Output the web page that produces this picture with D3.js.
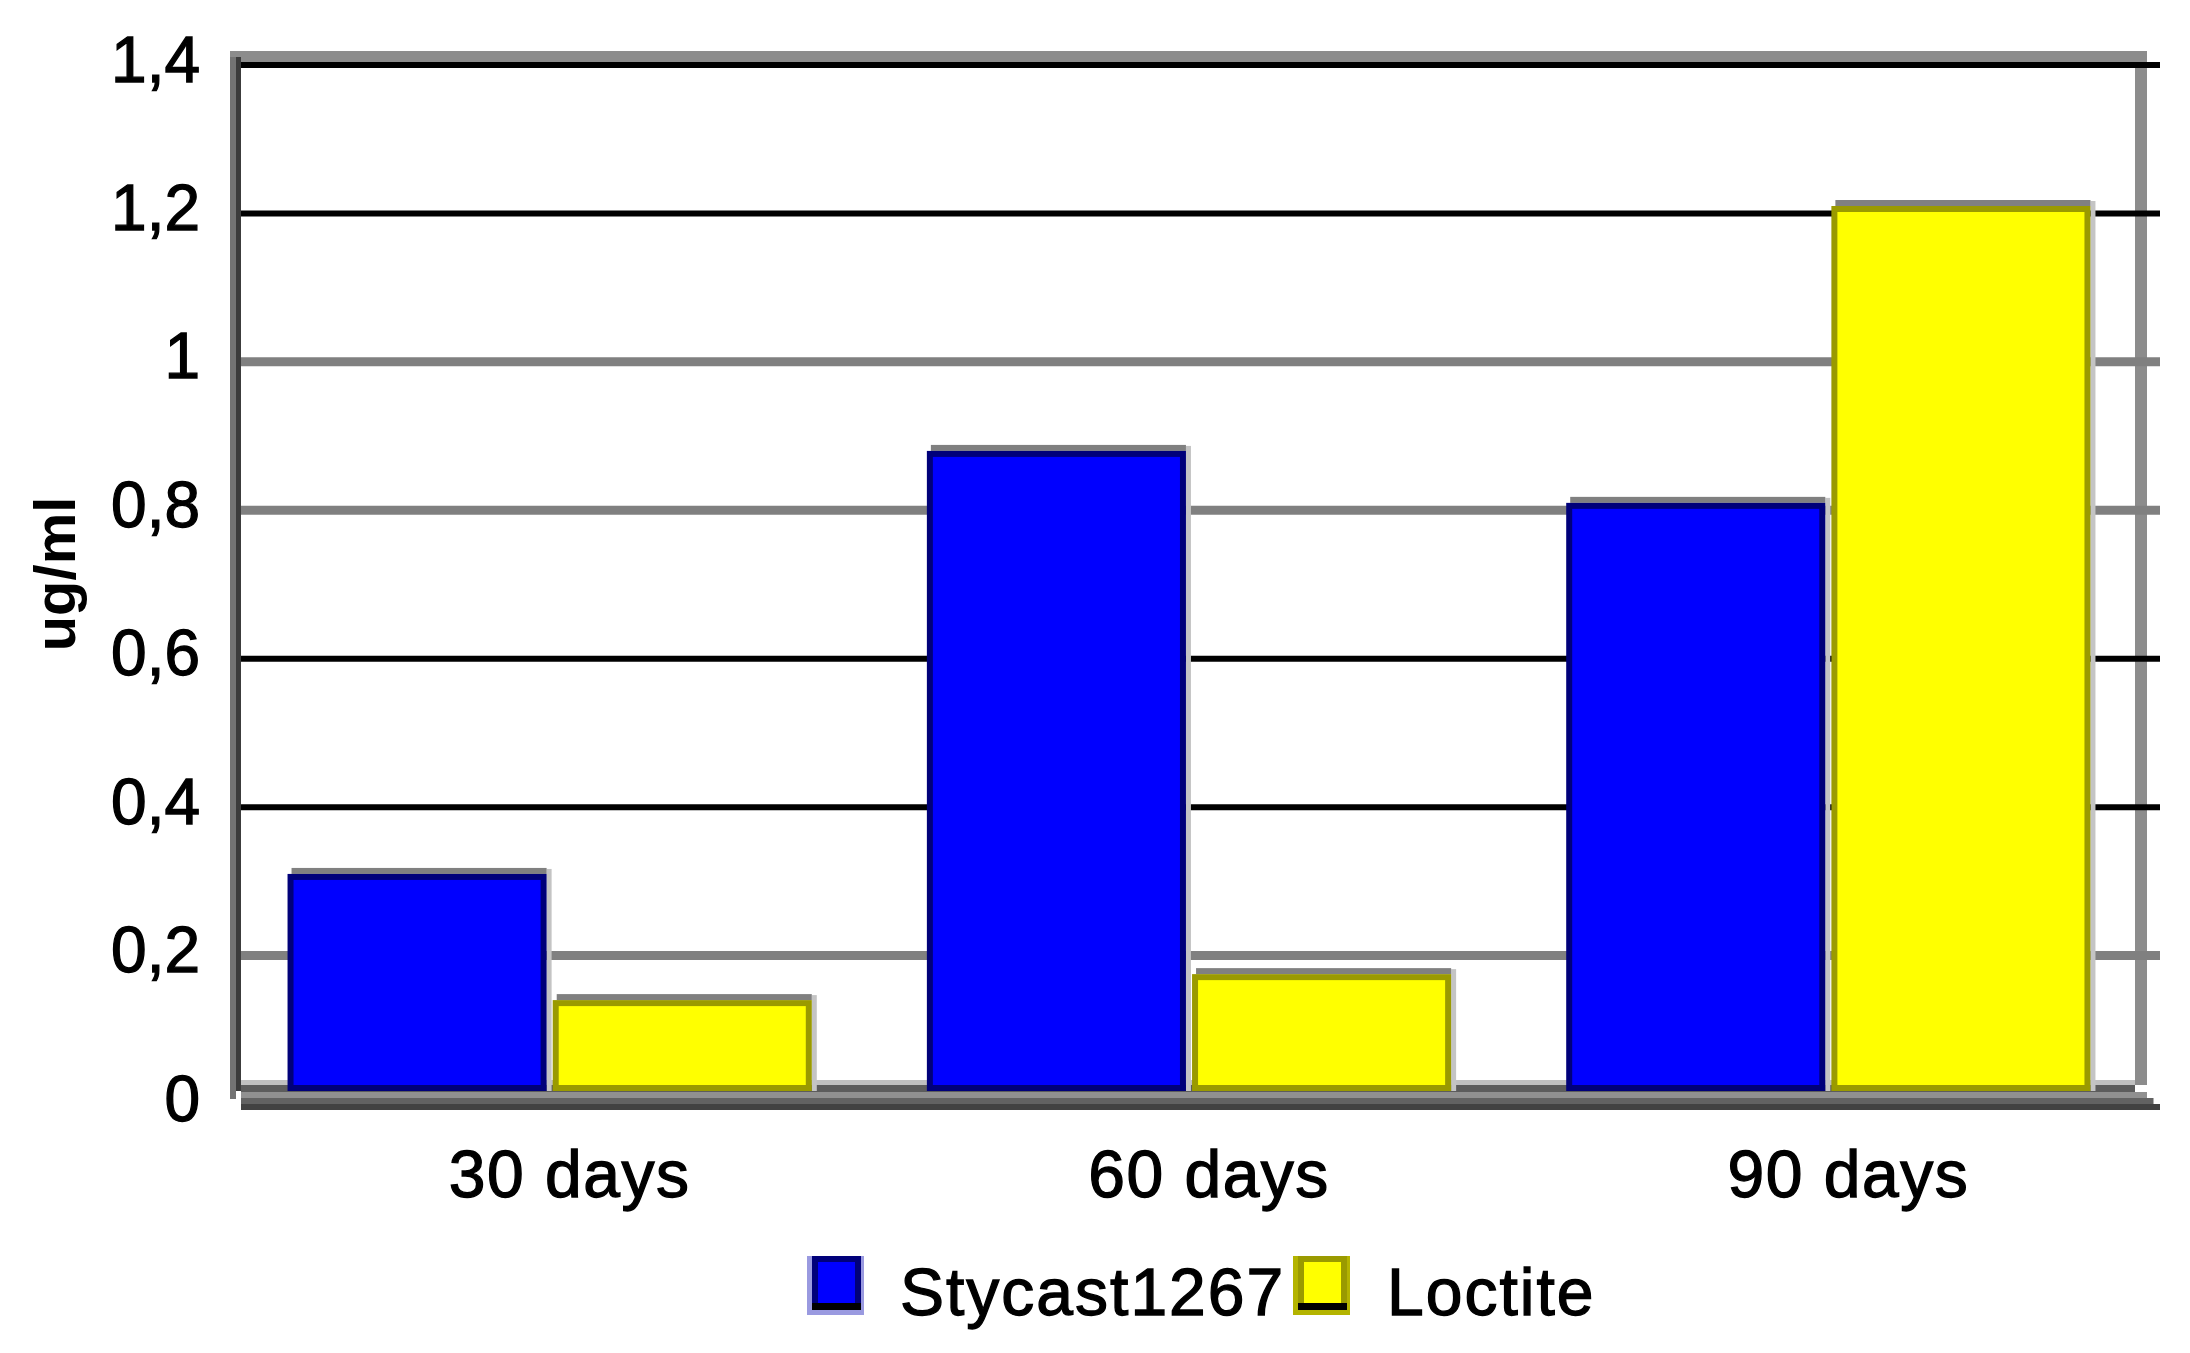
<!DOCTYPE html>
<html>
<head>
<meta charset="utf-8">
<script src="https://cdn.jsdelivr.net/npm/d3@7"></script>
<style>
  html, body { margin: 0; padding: 0; background: #ffffff; }
  svg { display: block; }
  text { font-family: "Liberation Sans", Arial, sans-serif; fill: #000; }
</style>
</head>
<body>
<svg id="chart" width="2190" height="1353"></svg>
<script>
// ---- data ----
const categories = ["30 days", "60 days", "90 days"];
const seriesNames = ["Stycast1267", "Loctite"];
const stycastValues = [0.31, 0.88, 0.81];
const loctiteValues = [0.14, 0.175, 1.21];
const yTickValues = [0, 0.2, 0.4, 0.6, 0.8, 1.0, 1.2, 1.4];
const yTitle = "ug/ml";

// ---- layout ----
const svg = d3.select("#chart");
const wallL = 230, wallR = 2147, gridEnd = 2160;
const depth = 13; // pseudo-3D offset between back wall and front floor

const x = d3.scaleBand().domain(categories).range([230, 2148]).padding(0);
const bw = x.bandwidth();
const xi = d3.scaleBand().domain(seriesNames)
  .range([bw * 0.09, bw * 0.91]).paddingInner(0.023).paddingOuter(0);
const y = d3.scaleLinear().domain([0, 1.4]).range([1104, 65]);

const colors = {
  "Stycast1267": { fill: "#0000ff", edge: "#00007a", top: "#808080", outer: "#9a9ae0" },
  "Loctite": { fill: "#ffff00", edge: "#9a9a00", top: "#808080", outer: "#b4b400" }
};

const rows = categories.map((c, i) => ({
  cat: c,
  vals: [
    { s: seriesNames[0], v: stycastValues[i] },
    { s: seriesNames[1], v: loctiteValues[i] }
  ]
}));

// ---- frame (walls) ----
const floorY = y(0) - depth;
svg.append("rect").attr("x", wallL).attr("y", y(1.4) - 14)
  .attr("width", wallR - wallL).attr("height", 12).attr("fill", "#8c8c8c");
svg.append("rect").attr("x", wallL).attr("y", y(1.4) - 8)
  .attr("width", 6).attr("height", floorY + 8 - (y(1.4) - 8)).attr("fill", "#747474");
svg.append("rect").attr("x", wallL + 6).attr("y", y(1.4) - 8)
  .attr("width", 5).attr("height", floorY - (y(1.4) - 8)).attr("fill", "#3c3c3c");
svg.append("rect").attr("x", 2135).attr("y", y(1.4) - 8)
  .attr("width", 12).attr("height", floorY - 6 - (y(1.4) - 8)).attr("fill", "#8c8c8c");

svg.append("rect").attr("x", wallL + 11).attr("y", floorY - 11)
  .attr("width", 2135 - wallL - 11).attr("height", 5).attr("fill", "#c0c0c0");
svg.append("rect").attr("x", wallL + 11).attr("y", floorY - 6)
  .attr("width", 2135 - wallL - 11).attr("height", 7).attr("fill", "#5c5c5c");

// ---- gridlines ----
const gridTicks = yTickValues.filter(v => v > 0).slice().reverse();
svg.append("g").selectAll("line").data(gridTicks).join("line")
  .attr("x1", wallL + 11).attr("x2", gridEnd)
  .attr("y1", d => y(d)).attr("y2", d => y(d))
  .attr("stroke", (d, k) => (k % 4 < 2 ? "#000000" : "#808080"))
  .attr("stroke-width", (d, k) => (k % 4 < 2 ? 6 : 9));

// ---- bars ----
const groups = svg.append("g").selectAll("g").data(rows).join("g")
  .attr("transform", d => `translate(${x(d.cat)},0)`);

groups.selectAll("rect.shadow").data(d => d.vals).join("rect")
  .attr("class", "shadow")
  .attr("x", d => xi(d.s) + xi.bandwidth())
  .attr("y", d => y(d.v) - 5)
  .attr("width", 5)
  .attr("height", d => floorY - y(d.v) + 5)
  .attr("fill", "#c4c4c4");

groups.selectAll("rect.topface").data(d => d.vals).join("rect")
  .attr("class", "topface")
  .attr("x", d => xi(d.s) + 4)
  .attr("y", d => y(d.v) - 6)
  .attr("width", xi.bandwidth() - 4)
  .attr("height", 6)
  .attr("fill", d => colors[d.s].top);

groups.selectAll("rect.bar").data(d => d.vals).join("rect")
  .attr("class", "bar")
  .attr("x", d => xi(d.s) + 3)
  .attr("y", d => y(d.v) + 3)
  .attr("width", xi.bandwidth() - 6)
  .attr("height", d => floorY - y(d.v) - 6)
  .attr("fill", d => colors[d.s].fill)
  .attr("stroke", d => colors[d.s].edge)
  .attr("stroke-width", 6);

// ---- floor (front) ----
const floorStripes = [["#909090", 0], ["#626262", 6], ["#424242", 12]];
svg.append("g").selectAll("rect").data(floorStripes).join("rect")
  .attr("x", wallL + 11)
  .attr("y", d => floorY + 1 + d[1])
  .attr("width", (d, i) => wallR - wallL - 11 + i * 6.5)
  .attr("height", 6)
  .attr("fill", d => d[0]);

// ---- y axis labels ----
const locale = d3.formatLocale({ decimal: ",", thousands: ".", grouping: [3], currency: ["", ""] });
const fmt = locale.format("~g");
const yAxis = d3.axisLeft(y).tickValues(yTickValues).tickFormat(fmt)
  .tickSize(0).tickPadding(30);
const gy = svg.append("g").attr("transform", `translate(${wallL},0)`).call(yAxis);
gy.select(".domain").remove();
gy.selectAll("text")
  .attr("dy", "0.25em")
  .style("font-family", "'Liberation Sans', Arial, sans-serif")
  .style("font-size", "64px")
  .attr("fill", "#000")
  .attr("stroke", "#000").attr("stroke-width", 1.3);

// ---- x axis labels ----
const xAxis = d3.axisBottom(x).tickSize(0).tickPadding(0);
const gx = svg.append("g").attr("transform", `translate(20,${1197})`).call(xAxis);
gx.select(".domain").remove();
gx.selectAll("text")
  .attr("y", 0).attr("dy", 0)
  .style("font-family", "'Liberation Sans', Arial, sans-serif")
  .style("font-size", "66px")
  .style("letter-spacing", "1.5px")
  .attr("fill", "#000")
  .attr("stroke", "#000").attr("stroke-width", 1.3);

// ---- y title ----
svg.append("text")
  .attr("transform", "translate(75,574) rotate(-90)")
  .attr("text-anchor", "middle")
  .style("font-size", "58px")
  .style("font-weight", "bold")
  .attr("fill", "#1a1a1a")
  .text(yTitle);

// ---- legend ----
const legendItems = [
  { name: seriesNames[0], sx: 807, tx: 900 },
  { name: seriesNames[1], sx: 1293, tx: 1387 }
];
const lg = svg.append("g").selectAll("g").data(legendItems).join("g")
  .attr("transform", d => `translate(${d.sx},1256)`);
lg.append("rect").attr("x", 0).attr("y", 0).attr("width", 57).attr("height", 59)
  .attr("fill", d => colors[d.name].outer);
lg.append("rect").attr("x", 5).attr("y", 0).attr("width", 49).attr("height", 54)
  .attr("fill", d => colors[d.name].edge);
lg.append("rect").attr("x", 11).attr("y", 6).attr("width", 37).attr("height", 41)
  .attr("fill", d => colors[d.name].fill);
lg.append("rect").attr("x", 5).attr("y", 47).attr("width", 49).attr("height", 7)
  .attr("fill", "#000");
svg.append("g").selectAll("text").data(legendItems).join("text")
  .attr("x", d => d.tx).attr("y", 1315)
  .style("font-size", "66px")
  .style("letter-spacing", "2px")
  .attr("stroke", "#000").attr("stroke-width", 1.3)
  .text(d => d.name);
</script>
</body>
</html>
